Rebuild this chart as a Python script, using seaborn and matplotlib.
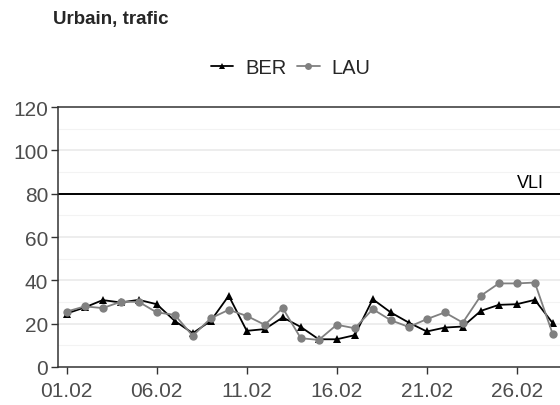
import matplotlib
matplotlib.use("Agg")
import matplotlib.pyplot as plt
import seaborn as sns
import pandas as pd
import numpy as np

days = list(range(1, 29))
ber = [24.7, 27.5, 30.9, 29.8, 31.0, 29.0, 21.3, 15.6, 21.3, 32.9, 16.7, 17.5, 22.9, 18.5,
       12.8, 12.8, 14.7, 31.3, 25.2, 20.5, 16.4, 18.2, 18.7, 25.9, 28.7, 29.0, 31.0, 20.2]
lau = [25.6, 28.0, 27.2, 30.1, 30.1, 25.2, 24.1, 14.4, 22.5, 26.4, 23.6, 19.5, 27.2, 13.3,
       12.5, 19.5, 17.9, 26.7, 21.6, 18.5, 22.1, 25.2, 20.5, 32.9, 38.6, 38.6, 39.0, 15.1]
xtick_days = [1, 6, 11, 16, 21, 26]
xtick_labels = ["01.02", "06.02", "11.02", "16.02", "21.02", "26.02"]
yticks = [0, 20, 40, 60, 80, 100, 120]
vli = 80
title = "Urbain, trafic"

df = pd.DataFrame({
    "day": days * 2,
    "value": ber + lau,
    "station": ["BER"] * len(days) + ["LAU"] * len(days),
})

sns.set_theme(style="white")
plt.rcParams['font.family'] = ['Liberation Sans', 'DejaVu Sans']

fig = plt.figure(figsize=(5.6, 4.06), dpi=100)
ax = fig.add_axes([0.1036, 0.0936, 0.8964, 0.640])

for y in np.arange(10, 120, 20):
    ax.axhline(y, color="#f3f3f3", lw=0.8, zorder=0)
for y in yticks[1:-1]:
    ax.axhline(y, color="#e8e8e8", lw=1.1, zorder=0)

sns.lineplot(data=df, x="day", y="value", hue="station", style="station",
             palette={"BER": "black", "LAU": "#808080"},
             markers={"BER": "^", "LAU": "o"}, dashes=False,
             markersize=6, markeredgewidth=0, linewidth=1.3, ax=ax, legend=True, clip_on=False)

ax.axhline(vli, color="black", lw=1.4, zorder=1)
ax.text(26.75, vli + 1.5, "VLI", ha="center", va="bottom", fontsize=13, color="black")

ax.set_xlim(0.517, 28.4)
ax.set_ylim(0, 120)
ax.set_xticks(xtick_days)
ax.set_xticklabels(xtick_labels)
ax.set_yticks(yticks)
ax.set_xlabel("")
ax.set_ylabel("")
ax.tick_params(axis="both", which="both", length=5, width=1, color="#333333",
               labelsize=15, labelcolor="#4d4d4d", direction="out", bottom=True, left=True, pad=2)
ax.tick_params(axis="x", pad=5)

for s in ["left", "bottom"]:
    ax.spines[s].set_color("#333333")
    ax.spines[s].set_linewidth(1.1)
ax.spines["top"].set_color("#333333")
ax.spines["top"].set_linewidth(1.1)
ax.spines["right"].set_visible(False)

handles, labels = ax.get_legend_handles_labels()
for h in handles:
    h.set_markersize(5)
leg = fig.legend(handles, labels, loc="center", bbox_to_anchor=(0.519, 0.832), ncol=2,
                 frameon=False, fontsize=14.5, handlelength=1.1, columnspacing=0.55,
                 handletextpad=0.6)
ax.get_legend().remove()

fig.text(0.095, 0.951, title, fontsize=13.5, fontweight="bold", ha="left", va="center")

fig.savefig("out.png", dpi=100)
